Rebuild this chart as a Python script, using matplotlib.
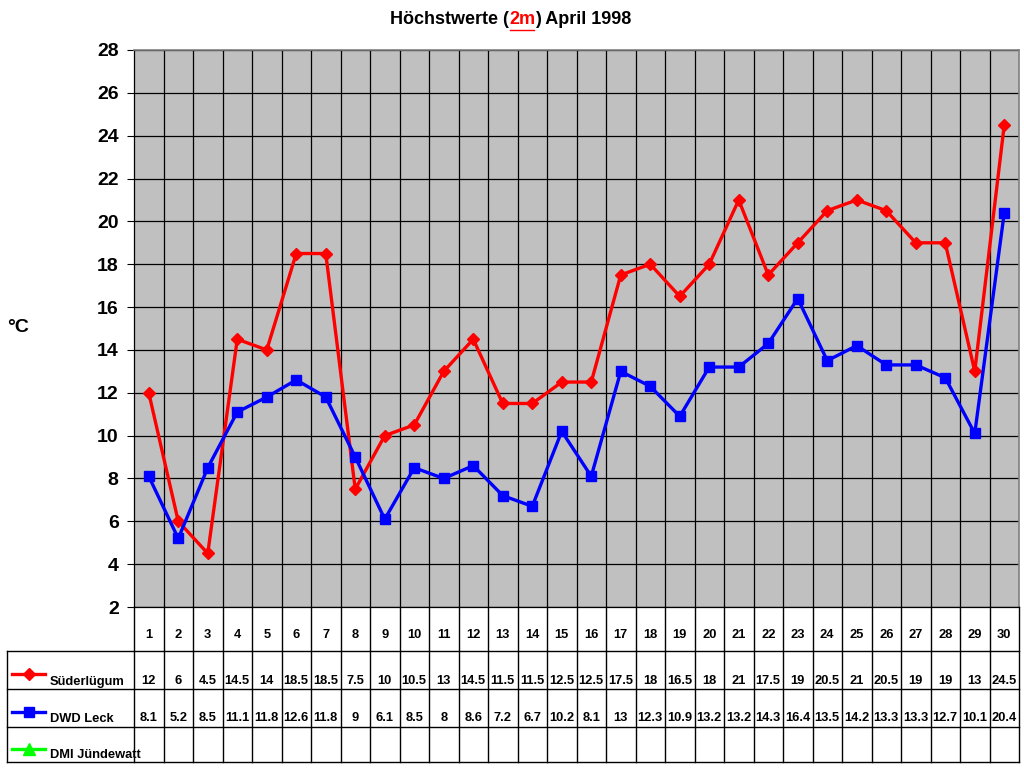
import matplotlib
matplotlib.use("Agg")
import matplotlib.pyplot as plt
from matplotlib.lines import Line2D

plt.rcParams['font.family'] = ['Liberation Sans', 'DejaVu Sans']
plt.rcParams['font.weight'] = 'bold'

days = list(range(1, 31))
suederluegum = [12, 6, 4.5, 14.5, 14, 18.5, 18.5, 7.5, 10, 10.5, 13, 14.5, 11.5, 11.5, 12.5,
                12.5, 17.5, 18, 16.5, 18, 21, 17.5, 19, 20.5, 21, 20.5, 19, 19, 13, 24.5]
dwd_leck = [8.1, 5.2, 8.5, 11.1, 11.8, 12.6, 11.8, 9, 6.1, 8.5, 8, 8.6, 7.2, 6.7, 10.2,
            8.1, 13, 12.3, 10.9, 13.2, 13.2, 14.3, 16.4, 13.5, 14.2, 13.3, 13.3, 12.7, 10.1, 20.4]
dmi_juendewatt = [None] * 30
series_names = ["Süderlügum", "DWD Leck", "DMI Jündewatt"]
yticks = list(range(2, 30, 2))

W, H = 1024, 768
fig = plt.figure(figsize=(W / 100, H / 100), dpi=100)

def fx(px):
    return px / W

def fy(py):
    return 1 - py / H

L, R, T, B = 134, 1019, 50, 607
ax = fig.add_axes([fx(L), fy(B), fx(R) - fx(L), fy(T) - fy(B)])
ax.set_facecolor('#C0C0C0')
ax.set_xlim(0.5, 30.5)
ax.set_ylim(2, 28)
ax.set_yticks(yticks)
ax.set_yticklabels([str(v) for v in yticks], fontsize=14, fontweight='bold')
ax.set_xticks([])
ax.tick_params(axis='y', direction='out', length=5, width=0.8, color='black', pad=6)
for v in yticks:
    ax.axhline(v, color='black', lw=0.9, zorder=1)
for k in range(1, 30):
    ax.axvline(0.5 + k, color='black', lw=0.9, zorder=1)
for s in ['top', 'right']:
    ax.spines[s].set_color('#808080')
    ax.spines[s].set_linewidth(1.2)
ax.spines['left'].set_color('black')
ax.spines['bottom'].set_color('black')
ax.spines['left'].set_linewidth(0.9)
ax.spines['bottom'].set_linewidth(0.9)

ax.plot(days, suederluegum, color='#FF0000', lw=2.4, marker='D', ms=6.5,
        markerfacecolor='#FF0000', markeredgecolor='#FF0000', zorder=3)
ax.plot(days, dwd_leck, color='#0000FF', lw=2.4, marker='s', ms=7.8,
        markerfacecolor='#0000FF', markeredgecolor='#0000FF', zorder=3)

fig.text(fx(18), fy(328), "°C", fontsize=14, fontweight='bold', ha='center', va='center')

# data table
TB = 762
tab = fig.add_axes([fx(L), fy(TB), fx(R) - fx(L), fy(B) - fy(TB)])
tab.set_xlim(0.5, 30.5)
tab.set_ylim(TB - B, 0)
tab.axis('off')
rows = [0, 44, 82, 120, 155]
px2x = 30 / (R - L)
xleft = 0.5 - (L - 7) * px2x
for k in range(31):
    tab.plot([0.5 + k, 0.5 + k], [0, 155], color='black', lw=1.0, clip_on=False)
for r in rows[1:]:
    tab.plot([xleft, 30.5], [r, r], color='black', lw=1.0, clip_on=False)
tab.plot([xleft, xleft], [44, 155], color='black', lw=1.0, clip_on=False)

for d in days:
    tab.text(d, 28, str(d), ha='center', va='center', fontsize=9.3, fontweight='bold')

def fmt(v):
    return ('%g' % v) if v is not None else ''

series = [suederluegum, dwd_leck, dmi_juendewatt]
colors = ['#FF0000', '#0000FF', '#00FF00']
markers = ['D', 's', '^']
msz = [6.5, 7.8, 8.5]
txt_off = [30, 29, 28]
mk_off = [23, 23, 22]
for i, (vals, name, c, m, ms) in enumerate(zip(series, series_names, colors, markers, msz)):
    ytxt = rows[i + 1] + txt_off[i]
    for d, v in zip(days, vals):
        tab.text(d, ytxt, fmt(v), ha='center', va='center', fontsize=9.3, fontweight='bold')
    ymk = rows[i + 1] + mk_off[i]
    x0 = 0.5 - (L - 12) * px2x
    x1 = 0.5 - (L - 45) * px2x
    xm = 0.5 - (L - 29) * px2x
    tab.plot([x0, x1], [ymk, ymk], color=c, lw=2.4, clip_on=False)
    tab.plot([xm], [ymk], marker=m, ms=ms, color=c, clip_on=False)
    tab.text(0.5 - (L - 50) * px2x, ytxt + 0.5, name, ha='left', va='center',
             fontsize=9.3, fontweight='bold')

# title with red underlined "2m"
parts = [("Höchstwerte (", 'black'), ("2m", '#FF0000'), (") April 1998", 'black')]
fig.canvas.draw()
renderer = fig.canvas.get_renderer()
texts = []
widths = []
for s, c in parts:
    t = fig.text(0, fy(20), s, fontsize=13, fontweight='bold', color=c, ha='left', va='center')
    widths.append(t.get_window_extent(renderer).width)
    texts.append(t)
total = sum(widths)
xstart = 511 - total / 2
xcur = xstart
for t, w in zip(texts, widths):
    t.set_x(fx(xcur))
    xcur += w
ux0 = xstart + widths[0] + 1
ux1 = ux0 + widths[1] - 2
fig.add_artist(Line2D([fx(ux0), fx(ux1)], [fy(29.5), fy(29.5)], color='#FF0000', lw=1.0))

fig.savefig("out.png", dpi=100)
